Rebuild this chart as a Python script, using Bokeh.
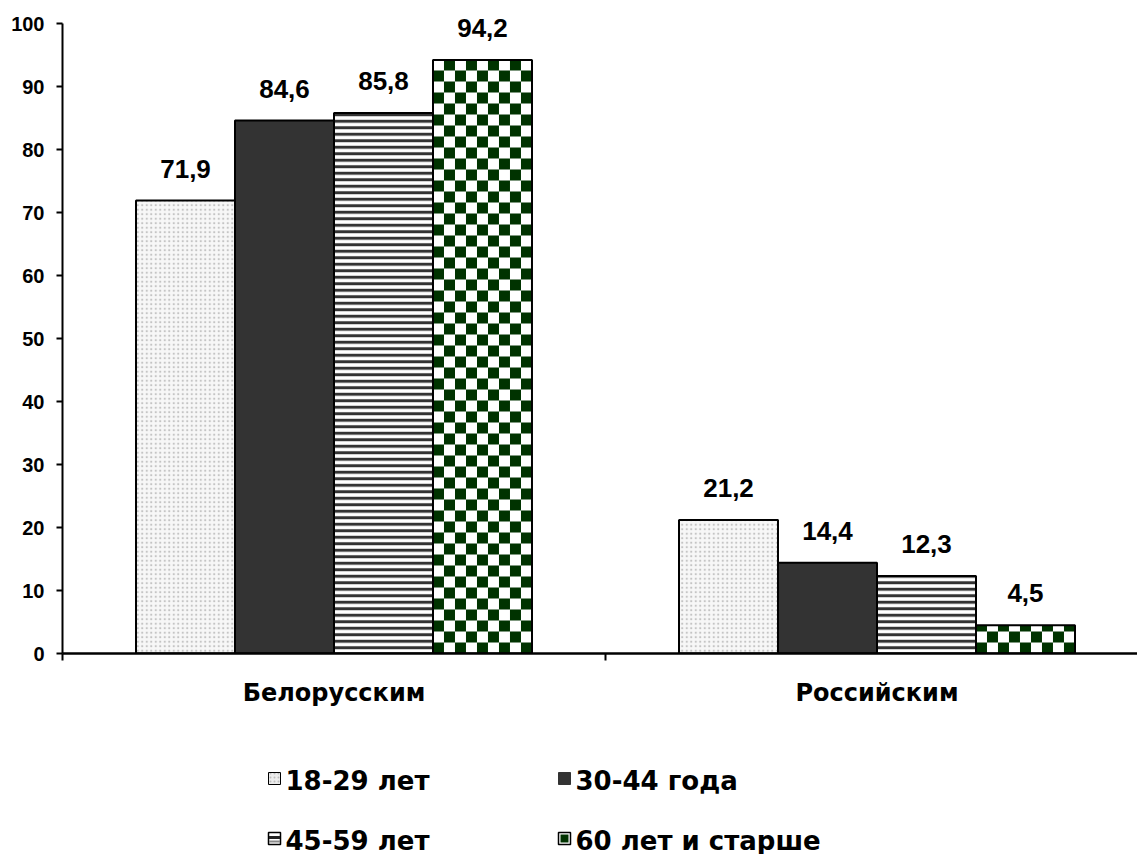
import math
from bokeh.plotting import figure
from bokeh.layouts import column
from bokeh.models import ColumnDataSource, Range1d, FixedTicker
from bokeh.core.properties import value
from bokeh.transform import dodge
from bokeh.embed import file_html
from bokeh.resources import INLINE

# Data
regions = ["Белорусским", "Российским"]
age_groups = ["18-29 лет", "30-44 года", "45-59 лет", "60 лет и старше"]
values_18_29 = [71.9, 21.2]
values_30_44 = [84.6, 14.4]
values_45_59 = [85.8, 12.3]
values_60_plus = [94.2, 4.5]
y_ticks = [0, 10, 20, 30, 40, 50, 60, 70, 80, 90, 100]

series = [values_18_29, values_30_44, values_45_59, values_60_plus]

LABEL_FONT = "Liberation Sans"
WIDE_FONT = "DejaVu Sans"

# Geometry of the main frame (the frame reaches above 100 so labels are not clipped)
FRAME_W, FRAME_H = 1075, 653
X_END = 1075 / 543
Y_END = 100 + 23 / 6.3
PX_X = FRAME_W / X_END      # pixels per x unit
PX_Y = FRAME_H / Y_END      # pixels per y unit

group_pos = [0.5, 1.5]
bar_w = 0.1823
offsets = [-1.5 * bar_w, -0.5 * bar_w, 0.5 * bar_w, 1.5 * bar_w]

styles = [
    dict(fill_color="#f7f7f7", hatch_pattern="dot", hatch_color="#c4c4c4",
         hatch_scale=4.5, hatch_weight=2),
    dict(fill_color="#333333"),
    dict(fill_color="white", hatch_pattern="horizontal_line", hatch_color="#333333",
         hatch_scale=6.5, hatch_weight=3),
    dict(fill_color="white"),
]

p = figure(width=1137, height=735, output_backend="svg", toolbar_location=None,
           x_range=Range1d(0, X_END), y_range=Range1d(0, Y_END),
           min_border_left=62, min_border_right=0, min_border_top=0,
           min_border_bottom=82, outline_line_color=None,
           background_fill_color="white", border_fill_color="white")
p.xgrid.visible = False
p.ygrid.visible = False

# Checkerboard squares for the oldest group, built from its bar heights
sq_px = 11
ncols = round(bar_w * PX_X / sq_px)
sq_x = bar_w / ncols
sq_y = sq_px / PX_Y
chk = dict(left=[], right=[], bottom=[], top=[])
for gp, v in zip(group_pos, values_60_plus):
    x0 = gp + offsets[3] - bar_w / 2
    for i in range(math.ceil(v / sq_y)):
        for j in range(ncols):
            if (i + j) % 2 == 0:
                chk["left"].append(x0 + j * sq_x)
                chk["right"].append(x0 + (j + 1) * sq_x)
                chk["bottom"].append(i * sq_y)
                chk["top"].append(min((i + 1) * sq_y, v))

for k, (vals, off, st) in enumerate(zip(series, offsets, styles)):
    src = ColumnDataSource(dict(
        pos=group_pos, top=vals,
        lbl=[f"{v:.1f}".replace(".", ",") for v in vals]))
    p.vbar(x=dodge("pos", off), top="top", width=bar_w, source=src,
           line_color=None, **st)
    if k == 3:
        p.quad(source=ColumnDataSource(chk), left="left", right="right",
               bottom="bottom", top="top", fill_color="#003300", line_color=None)
    p.vbar(x=dodge("pos", off), top="top", width=bar_w, source=src,
           fill_color=None, line_color="black", line_width=2)
    p.text(x=dodge("pos", off), y="top", text="lbl", source=src,
           text_align="center", text_baseline="alphabetic", y_offset=-32,
           text_font=value(LABEL_FONT), text_font_style="bold",
           text_font_size="26px", text_color="black")

# Y axis (line stops at 100)
ya = p.yaxis[0]
ya.ticker = FixedTicker(ticks=y_ticks)
ya.bounds = (0, 100)
ya.axis_line_width = 2
ya.axis_line_color = "black"
ya.major_tick_line_width = 2
ya.major_tick_out = 6
ya.major_tick_in = 0
ya.minor_tick_line_color = None
ya.major_label_text_font = LABEL_FONT
ya.major_label_text_font_style = "bold"
ya.major_label_text_font_size = "20px"
ya.major_label_text_color = "black"
ya.major_label_standoff = 12

# X axis: labels at group centres, separators at group edges
xa = p.xaxis[0]
xa.ticker = FixedTicker(ticks=group_pos, minor_ticks=[0, 1, 2])
xa.major_label_overrides = {0.5: regions[0], 1.5: regions[1]}
xa.axis_line_width = 2.5
xa.axis_line_color = "black"
xa.major_tick_line_color = None
xa.major_tick_out = 0
xa.major_tick_in = 0
xa.minor_tick_line_color = "black"
xa.minor_tick_line_width = 2
xa.minor_tick_out = 7
xa.minor_tick_in = 0
xa.major_label_text_font = WIDE_FONT
xa.major_label_text_font_style = "bold"
xa.major_label_text_font_size = "24px"
xa.major_label_text_color = "black"
xa.major_label_standoff = 18

# Legend panel (pixel coordinates, y pointing down)
lg = figure(width=1137, height=119, output_backend="svg", toolbar_location=None,
            x_range=Range1d(62, 1137), y_range=Range1d(119, 0),
            min_border_left=62, min_border_right=0, min_border_top=0,
            min_border_bottom=0, outline_line_color=None,
            background_fill_color="white", border_fill_color="white")
lg.axis.visible = False
lg.grid.visible = False

icon_x = [274, 564, 274, 564]
icon_y = [43, 43, 103, 103]
text_x = [285, 575, 285, 575]

lg.rect(x=icon_x[0], y=icon_y[0], width=12, height=12, fill_color="#ececec",
        hatch_pattern="dot", hatch_color="#bdbdbd", hatch_scale=4, hatch_weight=2,
        line_color="black", line_width=1)
lg.rect(x=icon_x[1], y=icon_y[1], width=12, height=12, fill_color="#333333",
        line_color="#333333", line_width=1)
lg.rect(x=icon_x[2], y=icon_y[2], width=12, height=12, fill_color="white",
        line_color="black", line_width=1.5)
lg.rect(x=[icon_x[2], icon_x[2]], y=[icon_y[2] - 1, icon_y[2] + 3], width=11,
        height=[3, 2], fill_color=["#222222", "#888888"], line_color=None)
lg.rect(x=icon_x[3], y=icon_y[3], width=12, height=12, fill_color="white",
        line_color="black", line_width=1.5)
lg.rect(x=icon_x[3], y=icon_y[3], width=8, height=8, fill_color="#003300",
        line_color=None)

lg.text(x=text_x, y=[45, 45, 105, 105], text=age_groups,
        text_align="left", text_baseline="middle",
        text_font=value(WIDE_FONT), text_font_style="bold",
        text_font_size="26px", text_color="black")

layout = column(p, lg, spacing=0)
open("out.html", "w").write(file_html(layout, INLINE))
